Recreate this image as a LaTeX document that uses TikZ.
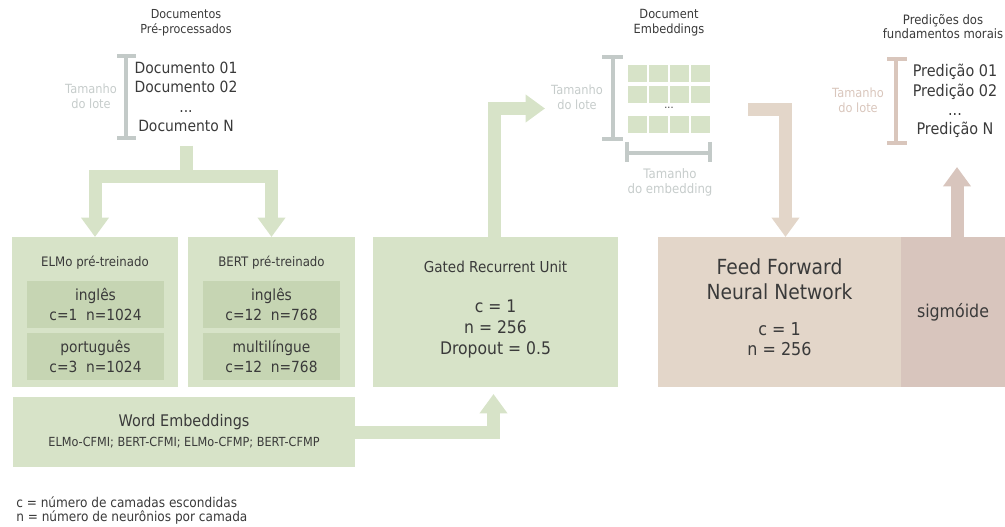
\documentclass[tikz,border=0pt]{standalone}
\usepackage{fontspec}
\setmainfont{DejaVu Sans}[FakeStretch=0.9]
\usetikzlibrary{arrows.meta}

\definecolor{lgreen}{HTML}{D7E3C8}
\definecolor{dgreen}{HTML}{C6D5B3}
\definecolor{lbrown}{HTML}{E3D6C9}
\definecolor{dbrown}{HTML}{D8C5BD}
\definecolor{bgray}{HTML}{C3CAC8}
\definecolor{tgray}{HTML}{C6CCCB}
\definecolor{tbrown}{HTML}{D9C6BC}
\definecolor{ink}{HTML}{3A3A3A}
\newlength\pxu \setlength\pxu{0.75pt}
\newcommand\fsz[2]{\fontsize{#1}{#2}\selectfont}

\begin{document}
\begin{tikzpicture}[x=0.75pt, y=-0.75pt,
  txt/.style={text=ink, align=center, inner sep=0pt},
  lote/.style={text=tgray, align=center, inner sep=0pt, font=\fsz{9.5}{11.5}},
  box/.style={fill=#1, inner sep=0pt, outer sep=0pt},
  inbox/.style={fill=dgreen, text=ink, align=center, inner sep=0pt,
    minimum width=137\pxu, minimum height=47\pxu, font=\fsz{11.5}{14.5}},
  lotebar/.style={draw=#1, line width=3pt},
  fat/.style={draw=#1, line width=9.75pt, line join=miter,
    -{Triangle[width=20pt,length=14.5pt]}}]
\useasboundingbox (0,0) rectangle (1005,527);

% entrada
\node[txt, font=\fsz{9.3}{11.5}] (doctitle) at (186,22.5) {Documentos\\Pré-processados};
\node[txt, font=\fsz{11.6}{14.5}] (docs) at (186,97) {Documento 01\\Documento 02\\...\\Documento N};
\node[lote] (lote1) at (91,96) {Tamanho\\do lote};
\draw[lotebar=bgray] (117,56) -- (136,56) (126,56) -- (126,138) (117,138) -- (136,138);

% modelos pre-treinados
\node[box=lgreen, minimum width=166\pxu, minimum height=150\pxu] (elmo) at (95,312) {};
\node[box=lgreen, minimum width=167\pxu, minimum height=150\pxu] (bert) at (271.5,312) {};
\node[txt, font=\fsz{9.8}{11}] (elmotitle) at (95,263) {ELMo pré-treinado};
\node[txt, font=\fsz{9.8}{11}] (berttitle) at (271.5,263) {BERT pré-treinado};
\node[inbox] (elmoen) at (95.5,304.5) {inglês\\c=1\ \ n=1024};
\node[inbox] (elmopt) at (95.5,356.5) {português\\c=3\ \ n=1024};
\node[inbox] (berten) at (271.5,304.5) {inglês\\c=12\ \ n=768};
\node[inbox] (bertml) at (271.5,356.5) {multilíngue\\c=12\ \ n=768};

\node[box=lgreen, minimum width=342\pxu, minimum height=70\pxu] (we) at (184,432) {};
\node[txt, font=\fsz{12}{13}] (wetitle) at (184,422) {Word Embeddings};
\node[txt, font=\fsz{9.4}{10}] (welist) at (184,443) {ELMo-CFMI; BERT-CFMI; ELMo-CFMP; BERT-CFMP};

% GRU
\node[box=lgreen, minimum width=245\pxu, minimum height=150\pxu] (gru) at (495.5,312) {};
\node[txt, font=\fsz{11.3}{12}] (grutitle) at (495.5,267) {Gated Recurrent Unit};
\node[txt, font=\fsz{13}{15.8}] (gruval) at (495.5,329) {c = 1\\n = 256\\Dropout = 0.5};

% document embeddings
\node[txt, font=\fsz{9.5}{11.5}] (embtitle) at (669,22.5) {Document\\Embeddings};
\foreach \c in {0,...,3}
  \foreach \r in {65,86.5,116}
    \fill[lgreen] (628+21*\c,\r) rectangle ++(18.5,17);
\node[txt, font=\fsz{8}{9}] (embdots) at (669,108) {...};
\node[lote] (lote2) at (577,97.5) {Tamanho\\do lote};
\draw[lotebar=bgray] (602,57) -- (623,57) (613,57) -- (613,139) (602,139) -- (623,139);
\draw[lotebar=bgray] (627,142) -- (627,162) (627,153) -- (710,153) (710,142) -- (710,162);
\node[lote, font=\fsz{9.8}{11.5}] (embsize) at (670,182.5) {Tamanho\\do embedding};

% classificador
\node[box=lbrown, minimum width=243\pxu, minimum height=150\pxu] (ffnn) at (779.5,312) {};
\node[box=dbrown, txt, font=\fsz{13.2}{14}, minimum width=104\pxu, minimum height=150\pxu] (sigm) at (953,312) {sigmóide};
\node[txt, font=\fsz{15.6}{19}] (ffnntitle) at (779.5,279.5) {Feed Forward\\Neural Network};
\node[txt, font=\fsz{13.3}{15}] (ffnnval) at (779.5,339) {c = 1\\n = 256};

% saida
\node[txt, font=\fsz{9.7}{10.5}] (predtitle) at (943,26.5) {Predições dos\\fundamentos morais};
\node[txt, font=\fsz{12}{14.5}] (preds) at (955,101) {Predição 01\\Predição 02\\...\\Predição N};
\node[text=tbrown, align=center, inner sep=0pt, font=\fsz{9.5}{11.5}] (lote3) at (858,100) {Tamanho\\do lote};
\draw[lotebar=tbrown] (887,59) -- (907,59) (896,59) -- (896,143) (887,143) -- (907,143);

% setas
\coordinate (fork) at (186,146);
\coordinate (embin) at (545,108.5);
\coordinate (embout) at (748,110);
\coordinate (predin) at (957,167);
\draw[fat=lgreen] (fork) -- ++(0,30.5) -| (elmo.north);
\draw[fat=lgreen] (fork) -- ++(0,30.5) -| (bert.north);
\draw[fat=lgreen, shorten >=5.25pt] (we.east) -| ([xshift=-1.5pt]gru.south);
\draw[fat=lgreen] ([xshift=-1pt]gru.north) |- (embin);
\draw[fat=lbrown] (embout) -| ([xshift=4.5pt]ffnn.north);
\draw[fat=dbrown] (predin |- sigm.north) -- (predin);

\node[txt, anchor=west, align=left, font=\fsz{10.1}{10.5}] (legend) at (16,511) {c = número de camadas escondidas\\n = número de neurônios por camada};
\end{tikzpicture}
\end{document}
